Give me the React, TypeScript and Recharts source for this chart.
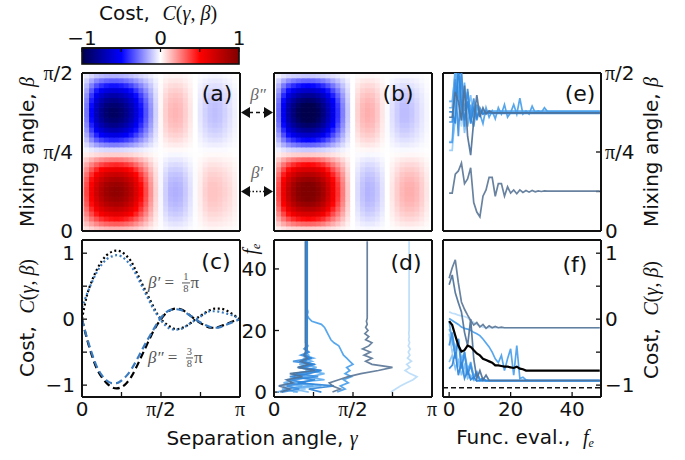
import React from 'react';
import { ComposedChart, ScatterChart, Scatter, Line, XAxis, YAxis, ReferenceArea, ReferenceLine } from 'recharts';

const SANS = '"DejaVu Sans", Verdana, sans-serif';
const SERIF = '"Liberation Serif", "DejaVu Serif", serif';
const INK = '#111';

// ---------------- panel (c) : cost vs separation angle (gamma in units of pi) ----------------
const gammaSamples = [0, 0.03125, 0.0625, 0.09375, 0.125, 0.15625, 0.1875, 0.21875, 0.25, 0.28125, 0.3125, 0.34375, 0.375, 0.40625, 0.4375, 0.46875, 0.5, 0.53125, 0.5625, 0.59375, 0.625, 0.65625, 0.6875, 0.71875, 0.75, 0.78125, 0.8125, 0.84375, 0.875, 0.90625, 0.9375, 0.96875, 1];
const costBeta1Theory = [0, 0.36, 0.58, 0.75, 0.88, 0.97, 1.02, 1.04, 1.02, 0.96, 0.87, 0.72, 0.56, 0.41, 0.26, 0.11, 0.0, -0.07, -0.12, -0.15, -0.14, -0.11, -0.06, 0.0, 0.05, 0.1, 0.14, 0.16, 0.16, 0.14, 0.1, 0.05, 0.0];
const costBeta1Exp = [0.17, 0.38, 0.56, 0.71, 0.83, 0.91, 0.95, 0.97, 0.95, 0.89, 0.8, 0.67, 0.52, 0.37, 0.22, 0.09, -0.02, -0.1, -0.15, -0.16, -0.15, -0.11, -0.06, -0.01, 0.04, 0.09, 0.12, 0.12, 0.11, 0.09, 0.07, 0.04, 0.0];
const costBeta2Theory = [0, -0.3, -0.55, -0.75, -0.88, -0.97, -1.03, -1.05, -1.03, -0.97, -0.87, -0.73, -0.57, -0.41, -0.25, -0.11, 0.0, 0.09, 0.14, 0.16, 0.15, 0.11, 0.05, -0.01, -0.06, -0.1, -0.13, -0.13, -0.11, -0.08, -0.05, -0.02, 0];
const costBeta2Exp = [0, -0.28, -0.52, -0.72, -0.85, -0.93, -0.97, -0.97, -0.93, -0.86, -0.76, -0.63, -0.49, -0.35, -0.22, -0.09, 0.02, 0.1, 0.14, 0.15, 0.14, 0.1, 0.05, 0.0, -0.05, -0.09, -0.12, -0.13, -0.12, -0.09, -0.06, -0.03, 0];

// ---------------- heat maps (a), (b): rows of mixing angle beta (units of pi) ----------------
const betaRows = [0.0078, 0.0234, 0.0391, 0.0547, 0.0703, 0.0859, 0.1016, 0.1172, 0.1328, 0.1484, 0.1641, 0.1797, 0.1953, 0.2109, 0.2266, 0.2422, 0.2578, 0.2734, 0.2891, 0.3047, 0.3203, 0.3359, 0.3516, 0.3672, 0.3828, 0.3984, 0.4141, 0.4297, 0.4453, 0.4609, 0.4766, 0.4922];
const rowWeightTheory = [0.1, 0.29, 0.47, 0.63, 0.77, 0.88, 0.96, 0.99, 0.99, 0.96, 0.88, 0.77, 0.63, 0.47, 0.29, 0.1, -0.1, -0.29, -0.47, -0.63, -0.77, -0.88, -0.96, -0.99, -0.99, -0.96, -0.88, -0.77, -0.63, -0.47, -0.29, -0.1];
const rowWeightExp = [0.16, 0.33, 0.49, 0.64, 0.76, 0.86, 0.93, 0.97, 0.97, 0.93, 0.85, 0.74, 0.6, 0.44, 0.27, 0.1, -0.08, -0.26, -0.44, -0.6, -0.74, -0.85, -0.93, -0.97, -0.97, -0.93, -0.86, -0.76, -0.63, -0.48, -0.32, -0.16];

// ---------------- ticks / constants ----------------
const colorbarTicks = [-1, -0.5, 0, 0.5, 1];
const colorbarStops = [-1, -0.5, 0, 0.5, 1];
const colorbarColors = ['#00004d', '#0000ff', '#ffffff', '#ff0000', '#800000'];
const gammaTicks = [0, 0.25, 0.5, 0.75, 1];
const betaTicks = [0, 0.125, 0.25, 0.375, 0.5];
const costTicks = [-1, -0.5, 0, 0.5, 1];
const feTicks = [0, 20, 40];
const betaPrime = 0.125;
const betaDoublePrime = 0.375;
const costMinimum = -1.04;
const feLast = 49;

// ---------------- optimizer traces (gamma/pi, beta/pi, cost vs function evaluation) ----------------
const trace1Gamma = [0.37, 0.42, 0.37, 0.35, 0.41, 0.47, 0.55, 0.66, 0.75, 0.62, 0.58, 0.62, 0.57, 0.61, 0.56, 0.6, 0.62, 0.58, 0.6, 0.575, 0.595, 0.58, 0.59, 0.585, 0.59];
const trace1Beta = [0.12, 0.12, 0.18, 0.19, 0.215, 0.15, 0.165, 0.2, 0.09, 0.06, 0.045, 0.11, 0.13, 0.17, 0.17, 0.11, 0.15, 0.15, 0.11, 0.14, 0.12, 0.13, 0.118, 0.13, 0.122, 0.128, 0.123, 0.128, 0.124, 0.127, 0.125, 0.127, 0.126];
const trace1Cost = [0.62, 0.78, 0.9, 0.55, 0.26, 0.15, 0.06, -0.02, -0.09, -0.05, -0.12, -0.08, -0.14, -0.1, -0.13, -0.11, -0.13, -0.12, -0.13];

const trace2Gamma = [0.74, 0.77, 0.8, 0.84, 0.88, 0.905, 0.86, 0.83, 0.86, 0.84, 0.87, 0.845, 0.86, 0.85, 0.862, 0.85, 0.858, 0.852, 0.856, 0.853, 0.855];
const trace2Beta = [0.41, 0.41, 0.44, 0.39, 0.33, 0.4, 0.37, 0.385, 0.37, 0.38, 0.373, 0.378, 0.377];
const trace2Cost = [0.11, 0.09, 0.08, 0.06, 0.05, 0.04, 0.02, -0.02, -0.05, -0.08, -0.1, -0.12, -0.13];

const trace3Gamma = [0.4, 0.45, 0.42, 0.47, 0.44, 0.49, 0.45, 0.48, 0.46, 0.5, 0.48, 0.46, 0.44, 0.43, 0.42, 0.41, 0.38, 0.36, 0.35, 0.34, 0.33, 0.32, 0.3, 0.24, 0.22, 0.21, 0.215, 0.21];
const trace3Beta = [0.28, 0.28, 0.47, 0.42, 0.5, 0.38, 0.44, 0.36, 0.33, 0.4, 0.37, 0.34, 0.39, 0.36, 0.38, 0.355, 0.39, 0.37, 0.4, 0.36, 0.375, 0.4, 0.37, 0.42, 0.37, 0.38, 0.37, 0.395, 0.375, 0.38, 0.375, 0.39, 0.378];
const trace3Cost = [0.01, -0.02, -0.05, -0.08, -0.12, -0.14, -0.15, -0.17, -0.2, -0.22, -0.25, -0.3, -0.36, -0.42, -0.5, -0.6, -0.66, -0.55, -0.78, -0.6, -0.45, -0.85, -0.4, -0.9, -0.88, -0.92, -0.93];

const trace4Gamma = [0.05, 0.16, 0.08, 0.2, 0.1, 0.28, 0.14, 0.3, 0.18, 0.26, 0.12, 0.24, 0.17, 0.22, 0.19, 0.21, 0.2];
const trace4Beta = [0.345, 0.345, 0.48, 0.3, 0.5, 0.33, 0.45, 0.36, 0.42, 0.35, 0.39, 0.37, 0.38, 0.373, 0.372];
const trace4Cost = [-0.4, -0.2, -0.6, -0.3, -0.75, -0.5, -0.85, -0.7, -0.9, -0.82, -0.92, -0.9, -0.93];

const trace5Gamma = [0.15, 0.05, 0.25, 0.1, 0.32, 0.2, 0.12, 0.27, 0.15, 0.23, 0.17, 0.25, 0.19, 0.22, 0.2, 0.215, 0.205];
const trace5Beta = [0.41, 0.41, 0.5, 0.44, 0.36, 0.47, 0.33, 0.4, 0.36, 0.39, 0.37, 0.38, 0.372, 0.379];
const trace5Cost = [-0.03, -0.35, -0.5, -0.3, -0.7, -0.55, -0.8, -0.65, -0.88, -0.8, -0.93, -0.9, -0.94];

const trace6Gamma = [0.22, 0.12, 0.3, 0.18, 0.08, 0.2, 0.13, 0.24, 0.16, 0.21, 0.18, 0.2, 0.19, 0.2];
const trace6Beta = [0.283, 0.283, 0.35, 0.5, 0.42, 0.31, 0.38, 0.43, 0.35, 0.37, 0.38, 0.376];
const trace6Cost = [-0.65, -0.55, -0.75, -0.6, -0.85, -0.7, -0.9, -0.85, -0.93, -0.92, -0.94];

const trace7Gamma = [0.3, 0.22, 0.38, 0.15, 0.26, 0.1, 0.22, 0.3, 0.16, 0.25, 0.19, 0.23, 0.2, 0.21];
const trace7Beta = [0.377, 0.377, 0.34, 0.52, 0.4, 0.35, 0.41, 0.34, 0.39, 0.36, 0.38, 0.37, 0.374];
const trace7Cost = [-0.75, -0.7, -0.5, -0.85, -0.65, -0.9, -0.78, -0.92, -0.88, -0.94, -0.93];

const trace8Gamma = [0.12, 0.2, 0.06, 0.17, 0.24, 0.13, 0.2, 0.27, 0.18, 0.22, 0.2, 0.21];
const trace8Beta = [0.255, 0.255, 0.38, 0.47, 0.43, 0.36, 0.39, 0.37, 0.38, 0.38];
const trace8Cost = [-0.22, -0.5, -0.4, -0.7, -0.6, -0.82, -0.75, -0.9, -0.88, -0.93];

const trace9Gamma = [0.02, 0.09, 0.18, 0.06, 0.14, 0.23, 0.32, 0.2, 0.27, 0.16, 0.24, 0.19, 0.22, 0.2, 0.21];
const trace9Beta = [0.39, 0.39, 0.52, 0.45, 0.35, 0.44, 0.4, 0.355, 0.385, 0.37, 0.38, 0.375];
const trace9Cost = [-0.15, -0.25, -0.45, -0.35, -0.6, -0.5, -0.75, -0.68, -0.86, -0.8, -0.92, -0.9, -0.94];

const trace10Gamma = [0.04, 0.1, 0.03, 0.12, 0.08, 0.18, 0.1, 0.26, 0.15, 0.22, 0.17, 0.21, 0.19, 0.2];
const trace10Beta = [0.36, 0.36, 0.44, 0.41, 0.35, 0.46, 0.3, 0.24, 0.35, 0.43, 0.36, 0.39, 0.37, 0.38, 0.374];
const trace10Cost = [0.52, 0.67, 0.4, 0.25, 0.11, -0.2, -0.4, 0.0, -0.6, -0.9, -0.78, -0.92, -0.85, -0.93];

const meanCost = [-0.03, -0.09, -0.25, -0.4, -0.49, -0.47, -0.4, -0.42, -0.47, -0.52, -0.55, -0.6, -0.62, -0.64, -0.66, -0.7, -0.7, -0.71, -0.72, -0.72, -0.73, -0.74, -0.72, -0.75, -0.76, -0.78];

const traces = [
  { color: '#b8dbf8', gamma: trace2Gamma, beta: trace2Beta, cost: trace2Cost },
  { color: '#97cbf5', gamma: trace8Gamma, beta: trace8Beta, cost: trace8Cost },
  { color: '#80bff3', gamma: trace6Gamma, beta: trace6Beta, cost: trace6Cost },
  { color: '#66b1f0', gamma: trace9Gamma, beta: trace9Beta, cost: trace9Cost },
  { color: '#5eabef', gamma: trace5Gamma, beta: trace5Beta, cost: trace5Cost },
  { color: '#4aa0ec', gamma: trace3Gamma, beta: trace3Beta, cost: trace3Cost },
  { color: '#3c8fe2', gamma: trace4Gamma, beta: trace4Beta, cost: trace4Cost },
  { color: '#2f85da', gamma: trace7Gamma, beta: trace7Beta, cost: trace7Cost },
  { color: '#4e7299', gamma: trace10Gamma, beta: trace10Beta, cost: trace10Cost },
  { color: '#5b7797', gamma: trace1Gamma, beta: trace1Beta, cost: trace1Cost },
];

// ---------------- helpers ----------------
const SEIS = [[0, 0, 77], [0, 0, 255], [255, 255, 255], [255, 0, 0], [128, 0, 0]];
function seismic(v: number) {
  const t = Math.max(0, Math.min(1, (v + 1) / 2)) * 4;
  const i = Math.min(3, Math.floor(t));
  const f = t - i;
  const a = SEIS[i];
  const b = SEIS[i + 1];
  const c = a.map((x, k) => Math.round(x + (b[k] - x) * f));
  return `rgb(${c[0]},${c[1]},${c[2]})`;
}

function buildCells(rowW: number[], b1: number[], b2: number[]) {
  const cells: any[] = [];
  betaRows.forEach((b, j) => {
    const w = rowW[j];
    gammaSamples.forEach((g, k) => {
      const v = w >= 0 ? w * b1[k] : -w * b2[k];
      cells.push({ g, b, v });
    });
  });
  return cells;
}
const cellsA = buildCells(rowWeightExp, costBeta1Exp, costBeta2Exp);
const cellsB = buildCells(rowWeightTheory, costBeta1Theory, costBeta2Theory);

const cData = gammaSamples.map((x, i) => ({
  x,
  dotT: costBeta1Theory[i],
  dotE: costBeta1Exp[i],
  dashT: costBeta2Theory[i],
  dashE: costBeta2Exp[i],
}));

const cbData = colorbarStops.map((x) => ({ x, y: 0.5 }));

const seriesPts = (arr: number[]) => [...arr.map((v, i) => ({ fe: i, v })), { fe: feLast, v: arr[arr.length - 1] }];
const gammaPts = (arr: number[]) => [...arr.map((g, i) => ({ g, fe: i })), { g: arr[arr.length - 1], fe: feLast }];

function makeTick(fmt: (v: number) => string, anchor: string, dy: string, size = 20) {
  return (props: any) => {
    const { x, y, payload } = props;
    const s = fmt(payload.value);
    if (!s) return <g />;
    const parts = s.split('π');
    return (
      <text x={x} y={y} dy={dy} textAnchor={anchor} fontSize={size} fontFamily={SANS} fill={INK}>
        {parts.map((p, i) => (
          <React.Fragment key={i}>
            {i > 0 && <tspan fontFamily={SERIF}>π</tspan>}
            {p}
          </React.Fragment>
        ))}
      </text>
    );
  };
}
const near = (a: number, b: number) => Math.abs(a - b) < 1e-6;
const gammaFmt = (v: number) => (near(v, 0) ? '0' : near(v, 0.5) ? 'π/2' : near(v, 1) ? 'π' : '');
const betaFmt = (v: number) => (near(v, 0) ? '0' : near(v, 0.25) ? 'π/4' : near(v, 0.5) ? 'π/2' : '');
const costFmt = (v: number) => (near(v, 1) ? '1' : near(v, 0) ? '0' : near(v, -1) ? '−1' : '');
const feFmt = (v: number) => String(v);

function frameAxes(o: any) {
  const line = { stroke: INK, strokeWidth: 2 };
  const tl = { stroke: INK, strokeWidth: 1.3 };
  return [
    <XAxis key="xb" xAxisId={0} dataKey={o.xKey} type="number" domain={o.xDomain} ticks={o.xTicks} allowDataOverflow orientation="bottom" height={o.B} axisLine={line} tickLine={tl} tickSize={-5} tickMargin={o.bTM ?? 10} interval={0} tick={o.bFmt ? makeTick(o.bFmt, 'middle', '0.71em') : false} />,
    <XAxis key="xt" xAxisId="t" type="number" domain={o.xDomain} ticks={o.xTicks} allowDataOverflow orientation="top" height={o.T} axisLine={line} tickLine={tl} tickSize={-5} interval={0} tick={false} />,
    <YAxis key="yl" yAxisId={0} dataKey={o.yKey} type="number" domain={o.yDomain} ticks={o.yTicks} allowDataOverflow orientation="left" width={o.L} axisLine={line} tickLine={tl} tickSize={-5} tickMargin={o.lTM ?? 12} interval={0} tick={o.lFmt ? makeTick(o.lFmt, 'end', '0.36em') : false} />,
    <YAxis key="yr" yAxisId="r" type="number" domain={o.yDomain} ticks={o.yTicks} allowDataOverflow orientation="right" width={o.R} axisLine={line} tickLine={tl} tickSize={-5} tickMargin={o.rTM ?? 9} interval={0} tick={o.rFmt ? makeTick(o.rFmt, 'start', '0.36em') : false} />,
  ];
}

const PW = 158;
const TOP_H = 158;
const BOT_H = 157;
const ROW1 = 73;
const ROW2 = 240;
const COL_A = 82;
const COL_B = 274;
const COL_E = 443;
const M0 = { top: 0, right: 0, bottom: 0, left: 0 };

function makeHeatCell(L: number, T: number) {
  const cw = PW / 32 + 0.7;
  const ch = TOP_H / 32 + 0.7;
  return (props: any) => {
    const { cx, cy, payload } = props;
    if (cx == null || cy == null) return <g />;
    const x0 = Math.max(L + 1, cx - cw / 2);
    const x1 = Math.min(L + PW - 1, cx + cw / 2);
    const y0 = Math.max(T + 1, cy - ch / 2);
    const y1 = Math.min(T + TOP_H - 1, cy + ch / 2);
    return <rect x={x0} y={y0} width={Math.max(0, x1 - x0)} height={Math.max(0, y1 - y0)} fill={seismic(payload.v)} />;
  };
}

const NoShape = () => <g />;

const ColorbarRect = (p: any) => (
  <g>
    <defs>
      <linearGradient id="cbgrad" x1="0" y1="0" x2="1" y2="0">
        {colorbarStops.map((s, i) => (
          <stop key={i} offset={(s + 1) / 2} stopColor={colorbarColors[i]} />
        ))}
      </linearGradient>
    </defs>
    <rect x={p.x} y={p.y} width={p.width} height={p.height} fill="url(#cbgrad)" stroke={INK} strokeWidth={1.6} />
  </g>
);

const Txt = ({ x, y, size = 20, rot = 0, color = INK, anchor = 'center', children }: any) => (
  <div
    style={{
      position: 'absolute',
      left: x,
      top: y,
      transform: `translate(${anchor === 'left' ? '0' : '-50%'},-50%) rotate(${rot}deg)`,
      fontSize: size,
      fontFamily: SANS,
      whiteSpace: 'nowrap',
      lineHeight: 1,
      color,
    }}
  >
    {children}
  </div>
);
const M = ({ children }: any) => <span style={{ fontFamily: SERIF, fontStyle: 'italic' }}>{children}</span>;
const U = ({ children }: any) => <span style={{ fontFamily: SERIF }}>{children}</span>;
const CostLabel = () => (
  <>
    Cost,&nbsp;&nbsp;<M>C</M>
    <U>(</U>
    <M>γ</M>
    <U>,&nbsp;</U>
    <M>β</M>
    <U>)</U>
  </>
);
const Fe = () => (
  <>
    <M>f</M>
    <span style={{ fontFamily: SERIF, fontStyle: 'italic', fontSize: '0.6em', verticalAlign: '-0.25em' }}>e</span>
  </>
);
const Frac = ({ n, d }: any) => (
  <span style={{ display: 'inline-flex', flexDirection: 'column', alignItems: 'center', verticalAlign: 'middle', fontSize: '0.62em', lineHeight: 1.05, margin: '0 1px 0 4px', fontStyle: 'normal', fontFamily: SERIF }}>
    <span>{n}</span>
    <span style={{ borderTop: '1px solid currentColor', padding: '0 1px' }}>{d}</span>
  </span>
);

const yOfBeta = (b: number) => ROW1 + TOP_H * (1 - b / 0.5);

export default function App() {
  const HL = 60;
  return (
    <div style={{ position: 'absolute', left: 0, top: 0, width: 685, height: 460, background: '#fff', overflow: 'hidden', color: INK }}>
      <style>{`.recharts-surface{overflow:visible}`}</style>

      {/* colorbar */}
      <div style={{ position: 'absolute', left: COL_A - 20, top: 8 }}>
        <ScatterChart width={20 + 157 + 20} height={60} margin={{ top: 0, right: 20, bottom: 4, left: 20 }}>
          <Scatter data={cbData} shape={NoShape} isAnimationActive={false} />
          <ReferenceArea x1={-1} x2={1} y1={0} y2={1} ifOverflow="visible" shape={ColorbarRect} />
          <XAxis dataKey="x" type="number" orientation="top" height={40} domain={[-1, 1]} ticks={colorbarTicks} allowDataOverflow axisLine={{ stroke: INK, strokeWidth: 1.6 }} tickLine={{ stroke: INK, strokeWidth: 1.2 }} tickSize={-4} tickMargin={7} interval={0} tick={makeTick(costFmt, 'middle', '0')} />
          <YAxis dataKey="y" type="number" domain={[0, 1]} allowDataOverflow width={0.01} axisLine={false} tickLine={false} tick={false} />
        </ScatterChart>
      </div>

      {/* (a) experimental landscape */}
      <div style={{ position: 'absolute', left: COL_A - HL, top: ROW1 - 4 }}>
        <ScatterChart width={HL + PW + 4} height={TOP_H + 8} margin={M0}>
          <Scatter data={cellsA} shape={makeHeatCell(HL, 4)} isAnimationActive={false} />
          {frameAxes({ xKey: 'g', yKey: 'b', xDomain: [0, 1], yDomain: [0, 0.5], xTicks: gammaTicks, yTicks: betaTicks, L: HL, R: 4, T: 4, B: 4, lFmt: betaFmt, lTM: 14 })}
        </ScatterChart>
      </div>

      {/* (b) theoretical landscape */}
      <div style={{ position: 'absolute', left: COL_B - 4, top: ROW1 - 4 }}>
        <ScatterChart width={4 + PW + 4} height={TOP_H + 8} margin={M0}>
          <Scatter data={cellsB} shape={makeHeatCell(4, 4)} isAnimationActive={false} />
          {frameAxes({ xKey: 'g', yKey: 'b', xDomain: [0, 1], yDomain: [0, 0.5], xTicks: gammaTicks, yTicks: betaTicks, L: 4, R: 4, T: 4, B: 4 })}
        </ScatterChart>
      </div>

      {/* (e) beta vs function evaluations */}
      <div style={{ position: 'absolute', left: COL_E - 4, top: ROW1 - 4 }}>
        <ScatterChart width={4 + PW + 50} height={TOP_H + 8} margin={M0}>
          {traces.map((t, i) => (
            <Scatter key={i} data={seriesPts(t.beta)} fill={t.color} stroke={t.color} line={{ stroke: t.color, strokeWidth: 1.7, strokeOpacity: 0.92 }} lineType="joint" shape={NoShape} isAnimationActive={false} />
          ))}
          {frameAxes({ xKey: 'fe', yKey: 'v', xDomain: [-2, 49.4], yDomain: [0, 0.5], xTicks: feTicks, yTicks: betaTicks, L: 4, R: 50, T: 4, B: 4, rFmt: betaFmt, rTM: 9 })}
        </ScatterChart>
      </div>

      {/* (c) cost cuts */}
      <div style={{ position: 'absolute', left: COL_A - HL, top: ROW2 - 4 }}>
        <ComposedChart width={HL + PW + 4} height={4 + BOT_H + 30} data={cData} margin={M0}>
          <Line dataKey="dotT" type="monotone" stroke="#000" strokeWidth={2.2} strokeDasharray="2 2.6" dot={false} isAnimationActive={false} />
          <Line dataKey="dashT" type="monotone" stroke="#000" strokeWidth={2.2} strokeDasharray="7 4" dot={false} isAnimationActive={false} />
          <Line dataKey="dotE" type="monotone" stroke="#3b7bbf" strokeWidth={2.2} strokeDasharray="2 2.6" dot={false} isAnimationActive={false} />
          <Line dataKey="dashE" type="monotone" stroke="#3b7bbf" strokeWidth={2.2} strokeDasharray="7 4" dot={false} isAnimationActive={false} />
          {frameAxes({ xKey: 'x', xDomain: [0, 1], yDomain: [-1.18, 1.2], xTicks: gammaTicks, yTicks: costTicks, L: HL, R: 4, T: 4, B: 30, lFmt: costFmt, bFmt: gammaFmt, lTM: 12, bTM: 10 })}
        </ComposedChart>
      </div>

      {/* (d) gamma vs function evaluations */}
      <div style={{ position: 'absolute', left: COL_B - 30, top: ROW2 - 4 }}>
        <ScatterChart width={30 + PW + 4} height={4 + BOT_H + 30} margin={M0}>
          {traces.map((t, i) => (
            <Scatter key={i} data={gammaPts(t.gamma)} fill={t.color} stroke={t.color} line={{ stroke: t.color, strokeWidth: 1.7, strokeOpacity: 0.92 }} lineType="joint" shape={NoShape} isAnimationActive={false} />
          ))}
          {frameAxes({ xKey: 'g', yKey: 'fe', xDomain: [0, 1], yDomain: [-1.6, 49.4], xTicks: gammaTicks, yTicks: feTicks, L: 30, R: 4, T: 4, B: 30, lFmt: feFmt, bFmt: gammaFmt, lTM: 12, bTM: 10 })}
        </ScatterChart>
      </div>

      {/* (f) cost vs function evaluations */}
      <div style={{ position: 'absolute', left: COL_E - 4, top: ROW2 - 4 }}>
        <ScatterChart width={4 + PW + 50} height={4 + BOT_H + 30} margin={M0}>
          <ReferenceLine y={costMinimum} yAxisId={0} stroke={INK} strokeWidth={1.3} strokeDasharray="5 3" />
          {traces.map((t, i) => (
            <Scatter key={i} data={seriesPts(t.cost)} fill={t.color} stroke={t.color} line={{ stroke: t.color, strokeWidth: 1.7, strokeOpacity: 0.92 }} lineType="joint" shape={NoShape} isAnimationActive={false} />
          ))}
          <Scatter data={seriesPts(meanCost)} fill="#000" stroke="#000" line={{ stroke: '#000', strokeWidth: 2.2 }} lineType="joint" shape={NoShape} isAnimationActive={false} />
          {frameAxes({ xKey: 'fe', yKey: 'v', xDomain: [-2, 49.4], yDomain: [-1.18, 1.2], xTicks: feTicks, yTicks: costTicks, L: 4, R: 50, T: 4, B: 30, rFmt: costFmt, bFmt: feFmt, rTM: 9, bTM: 10 })}
        </ScatterChart>
      </div>

      {/* arrows marking beta' and beta'' */}
      <svg width={685} height={460} style={{ position: 'absolute', left: 0, top: 0, pointerEvents: 'none' }}>
        {[
          { b: betaDoublePrime, dash: '4 3' },
          { b: betaPrime, dash: '1.5 2' },
        ].map((a, i) => {
          const y = yOfBeta(a.b);
          const l = COL_A + PW + 1;
          const r = COL_B - 1;
          return (
            <g key={i}>
              <line x1={l + 8} y1={y} x2={r - 8} y2={y} stroke={INK} strokeWidth={1.6} strokeDasharray={a.dash} />
              <polygon points={`${l},${y} ${l + 9},${y - 5.5} ${l + 9},${y + 5.5}`} fill={INK} />
              <polygon points={`${r},${y} ${r - 9},${y - 5.5} ${r - 9},${y + 5.5}`} fill={INK} />
            </g>
          );
        })}
      </svg>

      {/* texts */}
      <Txt x={158} y={13}>
        <CostLabel />
      </Txt>
      <Txt x={27} y={152} rot={-90}>
        Mixing angle, <M>β</M>
      </Txt>
      <Txt x={27} y={318} rot={-90}>
        <CostLabel />
      </Txt>
      <Txt x={651} y={152} rot={-90}>
        Mixing angle, <M>β</M>
      </Txt>
      <Txt x={651} y={320} rot={-90}>
        <CostLabel />
      </Txt>
      <Txt x={262} y={438}>
        Separation angle, <M>γ</M>
      </Txt>
      <Txt x={525} y={438}>
        Func. eval.,&nbsp;&nbsp;<Fe />
      </Txt>
      <Txt x={251} y={249} rot={-90}>
        <Fe />
      </Txt>

      <Txt x={217} y={94} size={22}>(a)</Txt>
      <Txt x={398} y={94} size={22}>(b)</Txt>
      <Txt x={580} y={94} size={22}>(e)</Txt>
      <Txt x={216} y={262} size={22}>(c)</Txt>
      <Txt x={406} y={263} size={22}>(d)</Txt>
      <Txt x={575} y={265} size={22}>(f)</Txt>

      <Txt x={258} y={94} size={17} color="#666">
        <M>β″</M>
      </Txt>
      <Txt x={257} y={172} size={17} color="#666">
        <M>β′</M>
      </Txt>

      <Txt x={148} y={283} size={17} color="#555" anchor="left">
        <M>β′</M>
        <U> = </U>
        <Frac n="1" d="8" />
        <U>π</U>
      </Txt>
      <Txt x={148} y={358} size={17} color="#555" anchor="left">
        <M>β″</M>
        <U> = </U>
        <Frac n="3" d="8" />
        <U>π</U>
      </Txt>
    </div>
  );
}
